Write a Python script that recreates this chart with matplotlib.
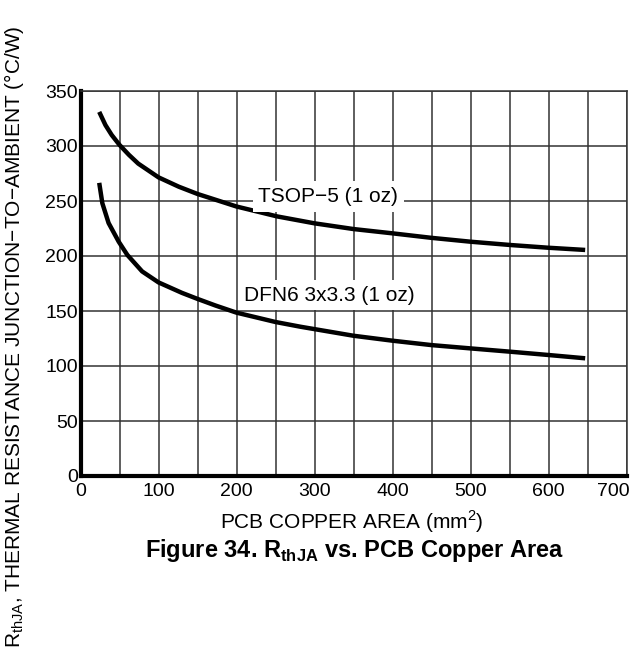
import matplotlib
matplotlib.use("Agg")
import matplotlib.pyplot as plt
import matplotlib.transforms as mtransforms
import numpy as np

plt.rcParams['font.family'] = ['Liberation Sans', 'DejaVu Sans']
plt.rcParams['mathtext.fontset'] = 'custom'
plt.rcParams['mathtext.rm'] = 'Liberation Sans'
plt.rcParams['mathtext.bf'] = 'Liberation Sans:bold'

# Data
tsop_x = [24, 32, 40, 50, 62, 74, 100, 126, 150, 200, 252, 300, 350, 400, 450, 500, 551, 600, 647]
tsop_y = [331, 319, 310, 301, 292, 284, 271.5, 263, 256.4, 245, 236, 229.7, 224.5, 220.6, 216.5, 213, 210, 207.5, 205.5]
dfn_x = [24, 28, 36, 49, 60, 79, 100, 130, 150, 173, 200, 250, 282, 350, 400, 450, 500, 551, 600, 647]
dfn_y = [266.5, 248, 230, 213, 201, 186, 176, 166.5, 161, 155, 148.5, 140, 135.7, 127.5, 123, 119, 116, 113, 110, 107]

x_ticks = [0, 100, 200, 300, 400, 500, 600, 700]
y_ticks = [0, 50, 100, 150, 200, 250, 300, 350]

W, H = 631, 648
fig = plt.figure(figsize=(W/100, H/100), dpi=100)
L, R, T, B = 80.5, 626.5, 91, 476
ax = fig.add_axes([L/W, 1 - B/H, (R-L)/W, (B-T)/H])

ax.set_xlim(0, 700)
ax.set_ylim(0, 350)
ax.set_xticks(x_ticks)
ax.set_xticks(np.arange(50, 701, 100), minor=True)
ax.set_yticks(y_ticks)
ax.grid(True, which='both', color='#333333', linewidth=1.1)
ax.set_axisbelow(True)
ax.tick_params(which='both', length=0, labelsize=14)
ax.tick_params(axis='y', pad=2)
ax.tick_params(axis='x', pad=5)
ax.set_xticklabels([str(v) for v in x_ticks])
ax.set_yticklabels([str(v) for v in y_ticks])

# keep the last x label inside the picture as in the reference
last = ax.get_xticklabels()[-1]
last.set_transform(last.get_transform() + mtransforms.ScaledTranslation(-13/100, 0, fig.dpi_scale_trans))

for s in ['top', 'right']:
    ax.spines[s].set_linewidth(1.1)
    ax.spines[s].set_color('#333333')
for s in ['left', 'bottom']:
    ax.spines[s].set_linewidth(3)
    ax.spines[s].set_color('black')

ax.plot(tsop_x, tsop_y, color='black', linewidth=3.2, solid_capstyle='butt',
        solid_joinstyle='round', zorder=3)
ax.plot(dfn_x, dfn_y, color='black', linewidth=3.2, solid_capstyle='butt',
        solid_joinstyle='round', zorder=3)

ax.text(317.5, 254, "TSOP\u22125 (1 oz)", fontsize=15, ha='center', va='center',
        bbox=dict(facecolor='white', edgecolor='none', pad=4), zorder=4)
ax.text(319, 164.5, "DFN6 3x3.3 (1 oz)", fontsize=15, ha='center', va='center',
        bbox=dict(facecolor='white', edgecolor='none', pad=4), zorder=4)

fig.text(352/W, 1 - 522/H, "PCB COPPER AREA (mm$^2$)", fontsize=15,
         ha='center', va='center')
fig.text(355/W, 1 - 550/H, r"Figure 34. R$_{\mathbf{thJA}}$ vs. PCB Copper Area",
         fontsize=17, fontweight='bold', ha='center', va='center')
fig.text(14/W, 1 - 337/H,
         "R$_{\\mathrm{thJA}}$, THERMAL RESISTANCE JUNCTION\u2212TO\u2212AMBIENT (\u00b0C/W)",
         fontsize=15, rotation=90, ha='center', va='center')

fig.savefig("out.png", dpi=100)
